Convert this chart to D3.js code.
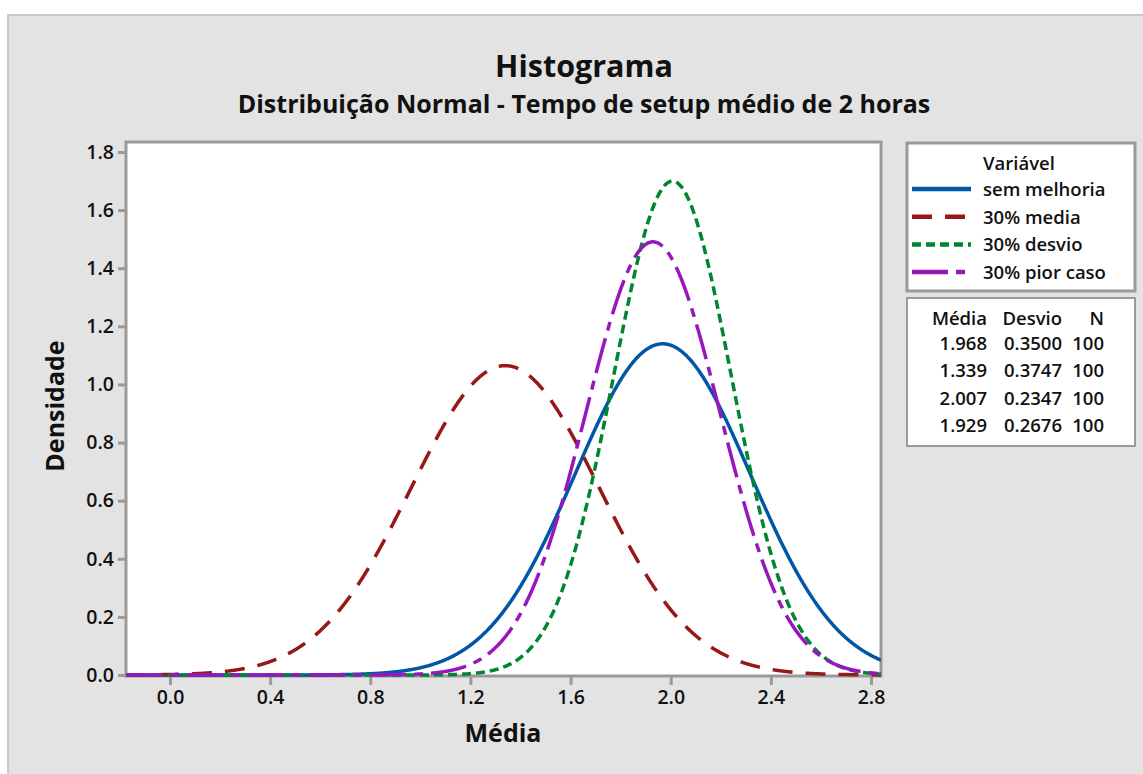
<!DOCTYPE html>
<head>
  <meta charset="utf-8">
  <script src="https://d3js.org/d3.v7.min.js"></script>
  <style>
    body { margin:0; background:#fff; }
    text { font-family: "Open Sans", "Noto Sans", sans-serif; fill:#111; }
  </style>
</head>
<body>
<svg width="1143" height="774" id="vis"></svg>
<script>
var series = ["sem melhoria", "30% media", "30% desvio", "30% pior caso"];
var means = [1.968, 1.339, 2.007, 1.929];
var sds = [0.3500, 0.3747, 0.2347, 0.2676];
var ns = [100, 100, 100, 100];
var meanLabels = ["1.968", "1.339", "2.007", "1.929"];
var sdLabels = ["0.3500", "0.3747", "0.2347", "0.2676"];
var xTicks = [0.0, 0.4, 0.8, 1.2, 1.6, 2.0, 2.4, 2.8];
var yTicks = [0.0, 0.2, 0.4, 0.6, 0.8, 1.0, 1.2, 1.4, 1.6, 1.8];

var colors = ["#0057a8", "#961818", "#008530", "#9717bd"];
var dashes = [null, "20,13", "9,5", "36,8,9,8"];

var svg = d3.select("#vis");

// outer panel
svg.append("rect").attr("x", 8).attr("y", 15).attr("width", 1140).attr("height", 765)
  .attr("fill", "#e3e3e3").attr("stroke", "#cacaca").attr("stroke-width", 2);

var plot = {left: 126, right: 881, top: 142, bottom: 676};

var x = d3.scaleLinear().domain([0, 2.8]).range([170, 871]);
var y = d3.scaleLinear().domain([0, 1.8]).range([675, 152]);

// plot background + frame
svg.append("rect").attr("x", plot.left).attr("y", plot.top)
  .attr("width", plot.right - plot.left).attr("height", plot.bottom - plot.top)
  .attr("fill", "#fff").attr("stroke", "#9a9a9a").attr("stroke-width", 3);

// axes
var xAxis = svg.append("g").attr("transform", "translate(0," + (plot.bottom + 1) + ")")
  .call(d3.axisBottom(x).tickValues(xTicks).tickFormat(d3.format(".1f")).tickSizeOuter(0).tickSize(8).tickPadding(5));
var yAxis = svg.append("g").attr("transform", "translate(" + (plot.left - 1) + ",0)")
  .call(d3.axisLeft(y).tickValues(yTicks).tickFormat(d3.format(".1f")).tickSizeOuter(0).tickSize(7).tickPadding(4));
[xAxis, yAxis].forEach(function(a) {
  a.select(".domain").remove();
  a.selectAll(".tick line").attr("stroke", "#9a9a9a").attr("stroke-width", 3);
  a.selectAll(".tick text").style("font-size", "19.5px").style("font-weight", "600").attr("fill", "#111");
});

// curves
svg.append("clipPath").attr("id", "clip").append("rect")
  .attr("x", plot.left).attr("y", plot.top - 2)
  .attr("width", plot.right - plot.left).attr("height", plot.bottom - plot.top + 4);

var xs = d3.range(x.invert(plot.left), x.invert(plot.right) + 0.002, 0.002);
function pdf(v, m, s) {
  return Math.exp(-0.5 * Math.pow((v - m) / s, 2)) / (s * Math.sqrt(2 * Math.PI));
}
var line = d3.line().x(function(d) { return x(d[0]); }).y(function(d) { return y(d[1]); });

var curves = svg.append("g").attr("clip-path", "url(#clip)");
series.forEach(function(name, i) {
  var pts = xs.map(function(v) { return [v, pdf(v, means[i], sds[i])]; });
  curves.append("path").datum(pts)
    .attr("d", line)
    .attr("fill", "none")
    .attr("stroke", colors[i])
    .attr("stroke-width", 3.5)
    .attr("stroke-dasharray", dashes[i]);
});

// titles
svg.append("text").attr("x", 584).attr("y", 77).attr("text-anchor", "middle")
  .style("font-size", "30.5px").style("font-weight", "bold").text("Histograma");
svg.append("text").attr("x", 584).attr("y", 113).attr("text-anchor", "middle")
  .style("font-size", "25px").style("font-weight", "bold").text("Distribuição Normal - Tempo de setup médio de 2 horas");
svg.append("text").attr("x", 503).attr("y", 742).attr("text-anchor", "middle")
  .style("font-size", "25px").style("font-weight", "bold").text("Média");
svg.append("text").attr("transform", "translate(64,406) rotate(-90)").attr("text-anchor", "middle")
  .style("font-size", "25px").style("font-weight", "bold").text("Densidade");

// legend
var leg = svg.append("g");
leg.append("rect").attr("x", 907).attr("y", 143).attr("width", 228).attr("height", 148)
  .attr("fill", "#fff").attr("stroke", "#9a9a9a").attr("stroke-width", 3);
leg.append("text").attr("x", 983).attr("y", 170).style("font-size", "18.5px").style("font-weight", "600").text("Variável");
series.forEach(function(name, i) {
  var yy = 189 + i * 27.7;
  leg.append("line").attr("x1", 912).attr("x2", 971).attr("y1", yy).attr("y2", yy)
    .attr("stroke", colors[i]).attr("stroke-width", 4.5).attr("stroke-dasharray", dashes[i]);
  leg.append("text").attr("x", 983).attr("y", yy + 7).style("font-size", "18.5px").style("font-weight", "600").text(name);
});

// summary table
var tab = svg.append("g");
tab.append("rect").attr("x", 907).attr("y", 298).attr("width", 228).attr("height", 148)
  .attr("fill", "#fff").attr("stroke", "#9a9a9a").attr("stroke-width", 2);
var cols = [987, 1062, 1104];
["Média", "Desvio", "N"].forEach(function(h, j) {
  tab.append("text").attr("x", cols[j]).attr("y", 325).attr("text-anchor", "end")
    .style("font-size", "18.5px").style("font-weight", "600").text(h);
});
series.forEach(function(name, i) {
  var yy = 350 + i * 27.3;
  [meanLabels[i], sdLabels[i], String(ns[i])].forEach(function(v, j) {
    tab.append("text").attr("x", cols[j]).attr("y", yy).attr("text-anchor", "end")
      .style("font-size", "18.5px").style("font-weight", "600").text(v);
  });
});
</script>
</body>
